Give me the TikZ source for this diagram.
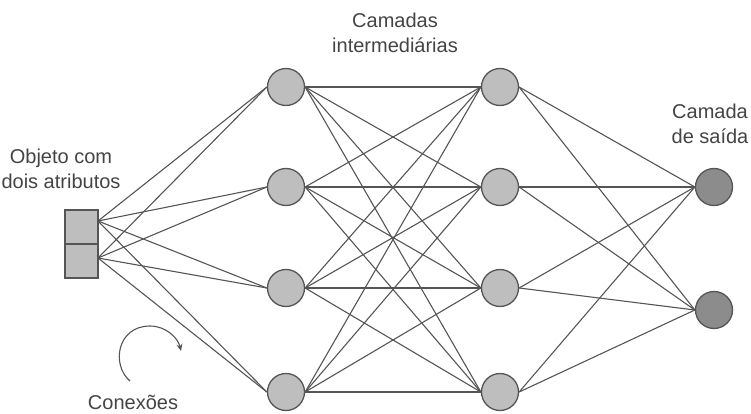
\documentclass[tikz,border=0pt]{standalone}
\usepackage{fontspec}
\setmainfont{Liberation Sans}
\usetikzlibrary{arrows.meta,backgrounds}
\definecolor{edgecol}{HTML}{555555}
\definecolor{txtcol}{HTML}{444444}
\definecolor{hidfill}{HTML}{BEBEBE}
\definecolor{outfill}{HTML}{8C8C8C}
\tikzset{
  neuron/.style={circle, draw=edgecol, line width=1.3pt, fill=hidfill, minimum size=37pt, inner sep=0pt},
  outneuron/.style={neuron, fill=outfill},
  conn/.style={draw=edgecol, line width=1.1pt},
  lbl/.style={text=txtcol, font=\fontsize{20}{25}\selectfont, align=center, inner sep=0pt},
  inbox/.style={draw=edgecol, line width=1.2pt, fill=hidfill, minimum width=33pt, minimum height=34pt, inner sep=0pt}
}
\begin{document}
\begin{tikzpicture}[x=1pt,y=-1pt]
\useasboundingbox (0,0) rectangle (751,414);
% nodes
\node[inbox] (i1) at (81.5,227) {};
\node[inbox] (i2) at (81.5,261) {};
\coordinate (p1) at (98,221);
\coordinate (p2) at (98,258);
\foreach \n/\y in {1/87,2/187,3/288,4/392}{
  \node[neuron] (a\n) at (286,\y) {};
  \node[neuron] (b\n) at (500,\y) {};
}
\node[outneuron] (o1) at (714,187) {};
\node[outneuron] (o2) at (714,310) {};
% connections, behind the nodes
\begin{pgfonlayer}{background}
\foreach \p in {p1,p2}{
  \foreach \n in {1,2,3,4}{
    \draw[conn] (\p) -- (a\n.west);
  }
}
\foreach \n in {1,2,3,4}{
  \foreach \m in {1,2,3,4}{
    \draw[conn] (a\n.east) -- (b\m.west);
  }
  \foreach \m in {1,2}{
    \draw[conn] (b\n.east) -- (o\m.west);
  }
}
\end{pgfonlayer}
% labels
\node[lbl] (tin) at (61,169) {Objeto com\\dois atributos};
\node[lbl] (tmid) at (395,33) {Camadas\\intermediárias};
\node[lbl] (tout) at (710,124) {Camada\\de saída};
\node[lbl] (tcon) at (133,402) {Conexões};
% curved arrow
\coordinate (c0) at (130,381);
\coordinate (c1) at (150,326);
\coordinate (c2) at (181,351);
\draw[edgecol, line width=1.1pt, -{Stealth[length=7pt,width=6pt]}] (c0) .. controls (111,365) and (117,326) .. (c1) .. controls (166,326) and (178,338) .. (c2);
\end{tikzpicture}
\end{document}
